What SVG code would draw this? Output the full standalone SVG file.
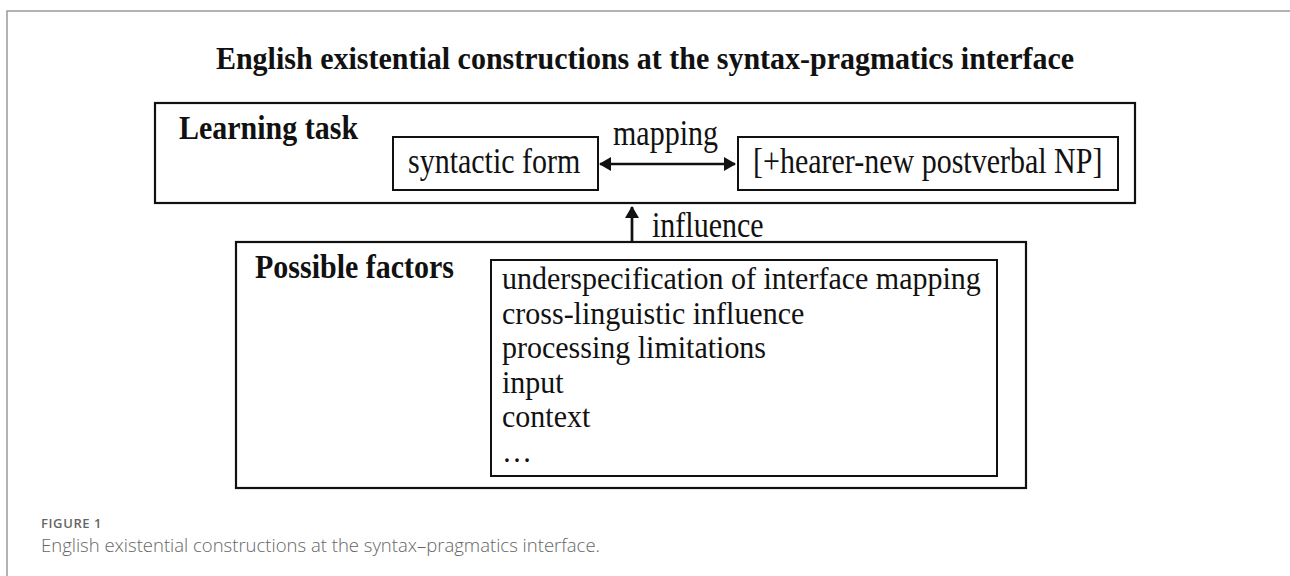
<svg xmlns="http://www.w3.org/2000/svg" width="1290" height="576" viewBox="0 0 1290 576">
  <style>
    .frame { fill: none; stroke: #9a9a9a; stroke-width: 1.5; }
    .box { fill: #ffffff; stroke: #111111; stroke-width: 2.2; }
    .inner { fill: #ffffff; stroke: #111111; stroke-width: 2; }
    .serif { font-family: "Liberation Serif", "Times New Roman", serif; fill: #111111; font-size: 30px; }
    .bold { font-weight: bold; }
    .edge { stroke: #111111; stroke-width: 2.7; fill: none; }
    .caplabel { font-family: "Open Sans", "Noto Sans", sans-serif; font-size: 13px; font-weight: 600; letter-spacing: 0.6px; fill: #666666; }
    .captext { font-family: "Open Sans", "Noto Sans", sans-serif; font-size: 18.5px; fill: #666666; font-weight: 300; }
  </style>
  <defs>
    <marker id="arrow" viewBox="0 0 12 14" refX="11" refY="7" markerWidth="12" markerHeight="14" markerUnits="userSpaceOnUse" orient="auto-start-reverse">
      <path d="M0,0 L12,7 L0,14 z" fill="#111111"/>
    </marker>
  </defs>

  <rect width="1290" height="576" fill="#ffffff"/>
  <!-- page frame -->
  <path class="frame" d="M7,576 L7,11 L1290,11"/>

  <!-- serif labels are set slightly tall (scaled vertically about their baselines) -->
  <text class="serif bold" transform="translate(645,69) scale(1,1.08)" text-anchor="middle">English existential constructions at the syntax-pragmatics interface</text>

  <g id="learning-task">
    <rect class="box" x="155" y="103" width="980" height="100"/>
    <text class="serif bold" transform="translate(179,139) scale(1,1.15)">Learning task</text>
  </g>

  <g id="syntactic-form">
    <rect class="inner" x="393" y="137" width="205" height="53"/>
    <text class="serif" transform="translate(408,173) scale(1,1.2)">syntactic form</text>
  </g>

  <g id="hearer-new">
    <rect class="inner" x="738" y="137" width="380" height="53"/>
    <text class="serif" transform="translate(753,173) scale(1,1.2)">[+hearer-new postverbal NP]</text>
  </g>

  <g id="possible-factors">
    <rect class="box" x="236" y="242" width="790" height="246"/>
    <text class="serif bold" transform="translate(255,278) scale(1,1.15)">Possible factors</text>
  </g>

  <g id="factor-list">
    <rect class="inner" x="491" y="260" width="506" height="216"/>
    <text class="serif" transform="translate(502,289) scale(1,1.04)">underspecification of interface mapping</text>
    <text class="serif" transform="translate(502,323.6) scale(1,1.04)">cross-linguistic influence</text>
    <text class="serif" transform="translate(502,358.2) scale(1,1.04)">processing limitations</text>
    <text class="serif" transform="translate(502,392.8) scale(1,1.04)">input</text>
    <text class="serif" transform="translate(502,427.4) scale(1,1.04)">context</text>
    <text class="serif" transform="translate(502,462) scale(1,1.04)">…</text>
  </g>

  <g id="connectors">
    <line class="edge" x1="600" y1="164" x2="735" y2="164" marker-start="url(#arrow)" marker-end="url(#arrow)"/>
    <text class="serif" transform="translate(613,145) scale(1,1.2)">mapping</text>
    <line class="edge" x1="632" y1="242" x2="632" y2="207" marker-end="url(#arrow)"/>
    <text class="serif" transform="translate(652,237) scale(1,1.2)">influence</text>
  </g>

  <text class="caplabel" x="41" y="528">FIGURE 1</text>
  <text class="captext" x="41" y="552">English existential constructions at the syntax–pragmatics interface.</text>
</svg>
